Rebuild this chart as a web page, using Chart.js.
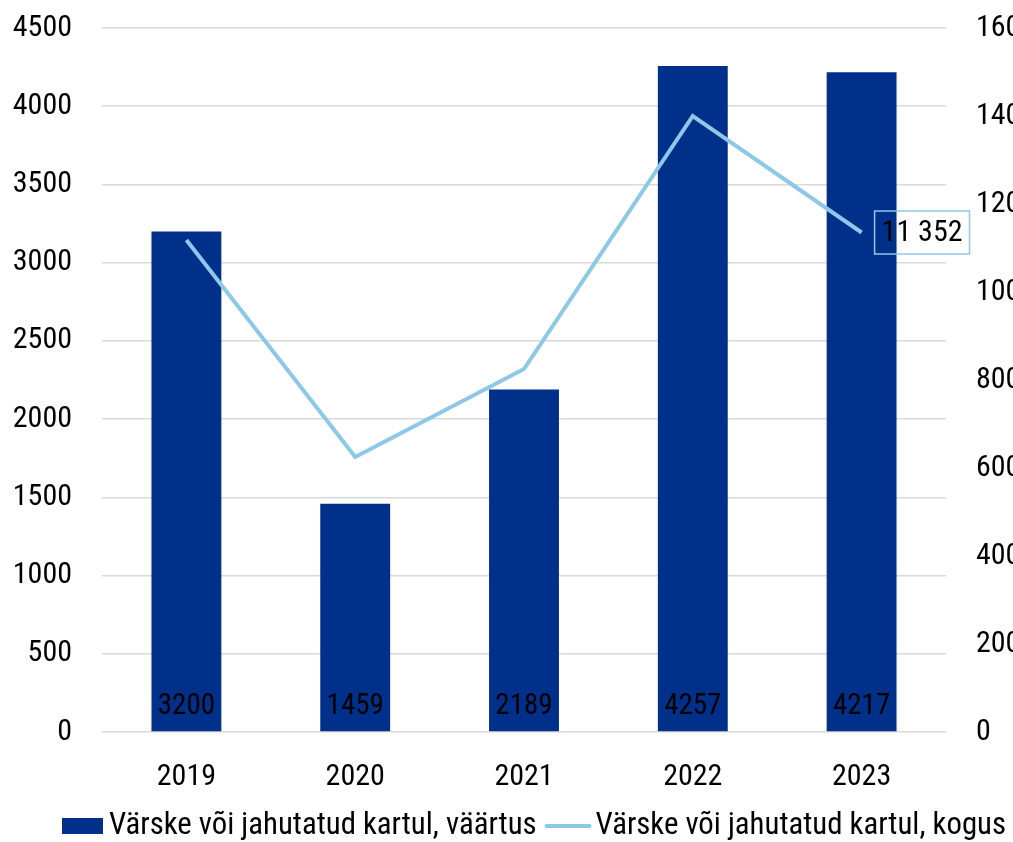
<!DOCTYPE html>
<html>
<head>
<meta charset="utf-8">
<script src="https://cdn.jsdelivr.net/npm/chart.js@4"></script>
<style>
  html, body { margin: 0; padding: 0; overflow: hidden; background: #fff; width: 1013px; height: 842px; }
  #wrap { width: 1080px; height: 842px; }
</style>
</head>
<body>
<div id="wrap"><canvas id="c" width="1080" height="842"></canvas></div>
<script>
const years = ['2019', '2020', '2021', '2022', '2023'];
const valueSeries = [3200, 1459, 2189, 4257, 4217];
const quantitySeries = [11180, 6250, 8250, 14000, 11352];
const seriesLabels = ['Värske või jahutatud kartul, väärtus', 'Värske või jahutatud kartul, kogus'];

const FONT = "'Roboto Condensed', 'Liberation Sans Narrow', 'DejaVu Sans Condensed', Roboto, sans-serif";
const BAR = '#00308A';
const LINE = '#8DC8E8';

function fmt(v) { return String(v).replace(/\B(?=(\d{3})+(?!\d))/g, ' '); }

const labelsPlugin = {
  id: 'labels',
  afterDatasetsDraw(chart) {
    const ctx = chart.ctx;
    const area = chart.chartArea;
    const barMeta = chart.getDatasetMeta(0);
    ctx.save();
    ctx.font = '29px ' + FONT;
    ctx.fillStyle = '#000';
    ctx.textAlign = 'center';
    ctx.textBaseline = 'middle';
    barMeta.data.forEach((el, i) => {
      ctx.fillText(String(valueSeries[i]), el.x, area.bottom - 25);
    });
    // last point label
    const lineMeta = chart.getDatasetMeta(1);
    const last = lineMeta.data[lineMeta.data.length - 1];
    const txt = fmt(quantitySeries[quantitySeries.length - 1]);
    ctx.font = '30px ' + FONT;
    const w = ctx.measureText(txt).width;
    const bx = last.x + 13, bw = w + 14, bh = 43;
    const by = last.y - bh / 2;
    ctx.strokeStyle = LINE;
    ctx.lineWidth = 1.5;
    ctx.strokeRect(bx, by, bw, bh);
    ctx.textAlign = 'left';
    ctx.fillText(txt, bx + 7, last.y + 1);
    ctx.restore();
  },
  afterDraw(chart) {
    const ctx = chart.ctx;
    ctx.save();
    ctx.font = '30.8px ' + FONT;
    ctx.textBaseline = 'middle';
    ctx.fillStyle = '#000';
    const t1 = ctx.measureText(seriesLabels[0]).width;
    const t2 = ctx.measureText(seriesLabels[1]).width;
    const total = 41 + 6 + t1 + 8 + 47 + 4 + t2;
    let x = 534 - total / 2;
    const cy = 826;
    ctx.fillStyle = BAR;
    ctx.fillRect(x, cy - 8, 41, 16);
    x += 41 + 6;
    ctx.fillStyle = '#000';
    ctx.fillText(seriesLabels[0], x, cy);
    x += t1 + 8;
    ctx.strokeStyle = LINE;
    ctx.lineWidth = 4;
    ctx.lineCap = 'round';
    ctx.beginPath();
    ctx.moveTo(x + 2, cy);
    ctx.lineTo(x + 45, cy);
    ctx.stroke();
    x += 47 + 4;
    ctx.fillText(seriesLabels[1], x, cy);
    ctx.restore();
  }
};

const plain = v => String(v);

new Chart(document.getElementById('c'), {
  data: {
    labels: years,
    datasets: [
      {
        type: 'bar',
        label: seriesLabels[0],
        data: valueSeries,
        backgroundColor: BAR,
        yAxisID: 'y',
        order: 1,
        barPercentage: 0.414,
        categoryPercentage: 1
      },
      {
        type: 'line',
        label: seriesLabels[1],
        data: quantitySeries,
        borderColor: LINE,
        backgroundColor: LINE,
        borderWidth: 4,
        pointRadius: 0,
        tension: 0,
        yAxisID: 'y1',
        order: 0
      }
    ]
  },
  options: {
    responsive: false,
    animation: false,
    events: [],
    layout: { padding: { top: 28, bottom: 50, left: 0, right: 0 } },
    plugins: { legend: { display: false }, tooltip: { enabled: false } },
    scales: {
      x: {
        grid: { display: false },
        border: { display: false },
        ticks: { color: '#000', font: { size: 30, family: FONT }, padding: 19 },
        afterFit(s) { s.height = 60; s.paddingLeft = 0; s.paddingRight = 0; }
      },
      y: {
        position: 'left',
        min: 0, max: 4500,
        ticks: { stepSize: 500, color: '#000', font: { size: 30, family: FONT }, padding: 30, callback: plain },
        grid: { color: '#d9d9d9', lineWidth: 1.5, drawTicks: false },
        border: { display: false },
        afterFit(s) { s.width = 102; s.paddingTop = 0; s.paddingBottom = 0; }
      },
      y1: {
        position: 'right',
        min: 0, max: 16000,
        ticks: { stepSize: 2000, color: '#000', font: { size: 30, family: FONT }, padding: 30, callback: plain },
        grid: { display: false, drawTicks: false },
        border: { display: false },
        afterFit(s) { s.width = 134; s.paddingTop = 0; s.paddingBottom = 0; }
      }
    }
  },
  plugins: [labelsPlugin]
});
</script>
</body>
</html>
